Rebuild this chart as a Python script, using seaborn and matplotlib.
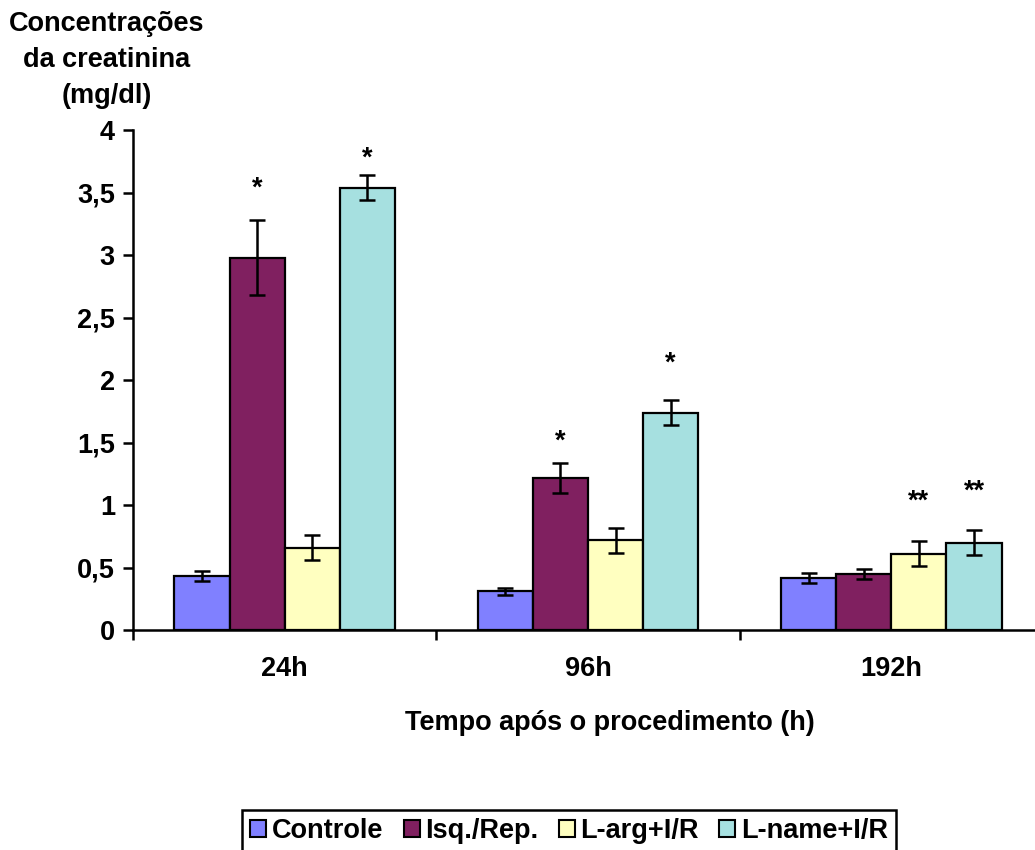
import matplotlib
matplotlib.use("Agg")
import matplotlib.pyplot as plt
import seaborn as sns
import pandas as pd
from matplotlib.ticker import FixedLocator, FuncFormatter

# ---- data ----
times = ["24h", "96h", "192h"]
groups = ["Controle", "Isq./Rep.", "L-arg+I/R", "L-name+I/R"]
controle = [0.43, 0.31, 0.42]
controle_err = [0.04, 0.03, 0.04]
isq = [2.98, 1.22, 0.45]
isq_err = [0.30, 0.12, 0.04]
larg = [0.66, 0.72, 0.61]
larg_err = [0.10, 0.10, 0.10]
lname = [3.54, 1.74, 0.70]
lname_err = [0.10, 0.10, 0.10]
isq_sig = ["*", "*", ""]
larg_sig = ["", "", "**"]
lname_sig = ["*", "*", "**"]
controle_sig = ["", "", ""]
isq_sig_y = [3.53, 1.51, 0]
larg_sig_y = [0, 0, 1.03]
lname_sig_y = [3.77, 2.13, 1.11]
controle_sig_y = [0, 0, 0]
colors = ["#8080FF", "#802060", "#FFFFC0", "#A6E0E0"]

values = [controle, isq, larg, lname]
errors = [controle_err, isq_err, larg_err, lname_err]
sigs = [controle_sig, isq_sig, larg_sig, lname_sig]
sig_ys = [controle_sig_y, isq_sig_y, larg_sig_y, lname_sig_y]

rows = []
for g, vals in zip(groups, values):
    for t, v in zip(times, vals):
        rows.append({"time": t, "group": g, "value": v})
df = pd.DataFrame(rows)

sns.set_style("white")
plt.rcParams["font.family"] = ["Liberation Sans", "DejaVu Sans"]
plt.rcParams["font.weight"] = "bold"
plt.rcParams["text.color"] = "black"
plt.rcParams["axes.labelcolor"] = "black"
plt.rcParams["xtick.color"] = "black"
plt.rcParams["ytick.color"] = "black"

fig = plt.figure(figsize=(10.35, 8.5), dpi=100)
ax = fig.add_axes([133 / 1035, 1 - 630 / 850, 910 / 1035, 500 / 850])

sns.barplot(data=df, x="time", y="value", hue="group", order=times,
            hue_order=groups, palette=colors, edgecolor="black",
            linewidth=1.6, width=0.727, gap=0, errorbar=None, ax=ax,
            saturation=1, legend=True)

fs = 19.5
for cont, errs, sg, sy in zip(ax.containers, errors, sigs, sig_ys):
    for bar, e, s, y in zip(cont, errs, sg, sy):
        xc = bar.get_x() + bar.get_width() / 2
        h = bar.get_height()
        ax.errorbar(xc, h, yerr=e, fmt="none", ecolor="black",
                    elinewidth=1.8, capsize=5.5, capthick=1.8, zorder=5)
        if s:
            ax.text(xc, y, s, ha="center", va="center", fontsize=fs,
                    fontweight="bold", color="black")

ax.set_xlim(-0.5, 2.5)
ax.set_ylim(0, 4)
ax.set_yticks([0, 0.5, 1, 1.5, 2, 2.5, 3, 3.5, 4])
ax.yaxis.set_major_formatter(FuncFormatter(lambda v, p: ("%g" % v).replace(".", ",")))
ax.xaxis.set_minor_locator(FixedLocator([-0.5, 0.5, 1.5, 2.5]))
ax.tick_params(axis="x", which="major", length=0, pad=19, labelsize=fs)
ax.tick_params(axis="x", which="minor", length=7, width=1.8, direction="out",
               bottom=True, color="black")
ax.tick_params(axis="y", which="major", length=7, width=1.8, direction="out",
               left=True, labelsize=fs, pad=6, color="black")
for lab in ax.get_xticklabels() + ax.get_yticklabels():
    lab.set_fontweight("bold")

for side in ["top", "right"]:
    ax.spines[side].set_visible(False)
for side in ["left", "bottom"]:
    ax.spines[side].set_color("black")
    ax.spines[side].set_linewidth(1.8)

ax.set_xlabel("Tempo após o procedimento (h)", fontsize=fs,
              fontweight="bold")
ax.xaxis.set_label_coords((610 - 133) / 910, -(723 - 630) / 500)
ax.xaxis.label.set_va("center")
ax.set_ylabel("")

fig.text(107 / 1035, 1 - 60 / 850, "Concentrações\nda creatinina\n(mg/dl)",
         ha="center", va="center", fontsize=fs, fontweight="bold",
         linespacing=1.5)

handles, labels = ax.get_legend_handles_labels()
ax.get_legend().remove()
leg = fig.legend(handles, labels, loc="center",
                 bbox_to_anchor=(569 / 1035, 1 - 831 / 850), ncol=4,
                 frameon=True, fancybox=False, framealpha=1,
                 prop={"weight": "bold", "size": fs},
                 handlelength=0.6, handleheight=0.6, handletextpad=0.2,
                 columnspacing=0.75, borderpad=0.3, borderaxespad=0)
leg.get_frame().set_edgecolor("black")
leg.get_frame().set_linewidth(1.8)
for h in leg.legend_handles:
    h.set_edgecolor("black")
    h.set_linewidth(1.5)

fig.savefig("out.png", dpi=100)
